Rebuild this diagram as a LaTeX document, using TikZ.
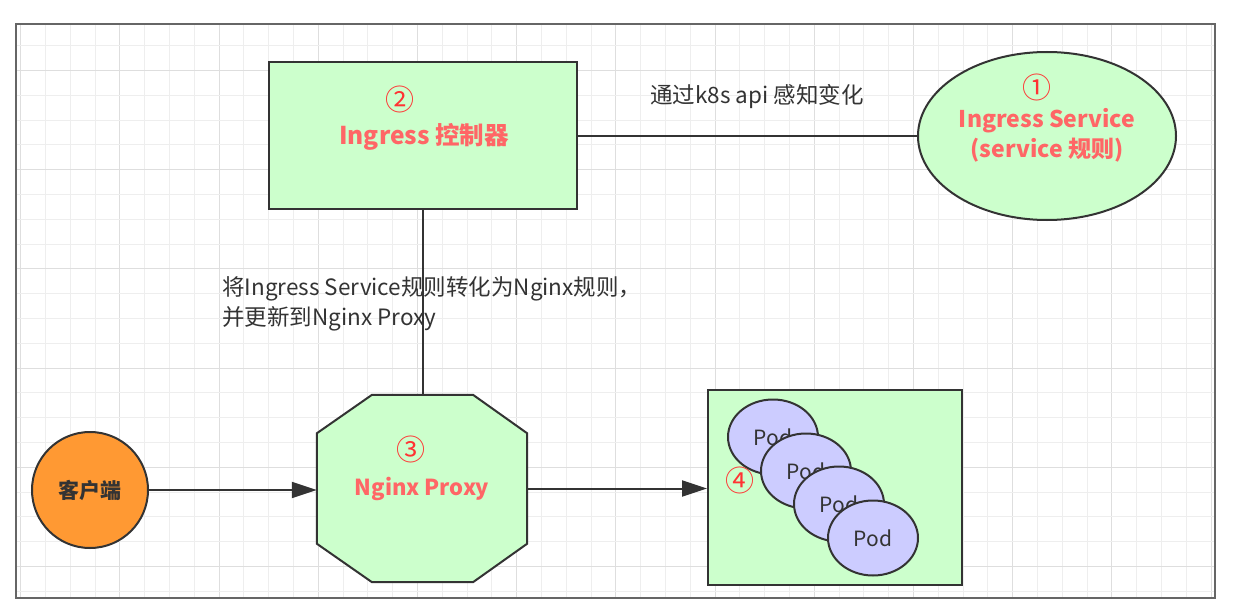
\documentclass[tikz,border=0pt]{standalone}
\usepackage{fontspec}
\setmainfont{Noto Sans CJK SC}
\usetikzlibrary{arrows.meta,shapes.geometric}
\definecolor{gminor}{HTML}{EEEEEE}
\definecolor{gmajor}{HTML}{DEDEDE}
\definecolor{lgreen}{HTML}{CCFFCC}
\definecolor{lblue}{HTML}{CCCCFF}
\definecolor{orng}{HTML}{FF9933}
\definecolor{edge}{HTML}{333333}
\definecolor{redtxt}{HTML}{FF6666}
\definecolor{rednum}{HTML}{FF3333}
\definecolor{frame}{HTML}{666666}
\tikzset{
  box/.style={draw=edge,line width=2pt,fill=lgreen,inner sep=0pt},
  title/.style={text=redtxt,font=\fontsize{#1}{24}\selectfont\bfseries,inner sep=0pt},
  num/.style={text=rednum,font=\fontsize{29}{30}\selectfont,inner sep=0pt},
  lbl/.style={text=edge,font=\fontsize{22.5}{30}\selectfont,inner sep=0pt},
  conn/.style={draw=edge,line width=2pt},
  arr/.style={conn,-{Triangle[length=25pt,width=16pt]}},
  pod/.style={ellipse,draw=edge,line width=2pt,fill=lblue,minimum width=90pt,minimum height=75pt,inner sep=0pt,text=edge,font=\fontsize{21}{22}\selectfont},
}
\begin{document}
\begin{tikzpicture}[x=1pt,y=-1pt]
\useasboundingbox (0,0) rectangle (1243,607);
\fill[white] (0,0) rectangle (1243,607);
% grid
\begin{scope}
\clip (16,24) rectangle (1215,598);
\foreach \k in {0,...,48} {
  \pgfmathsetmacro{\xx}{20.7+24.8*\k}
  \pgfmathtruncatemacro{\mm}{mod(\k,4)}
  \ifnum\mm=0 \draw[gmajor,line width=1pt] (\xx,24) -- (\xx,598);
  \else \draw[gminor,line width=1pt] (\xx,24) -- (\xx,598); \fi
}
\foreach \k in {0,...,22} {
  \pgfmathsetmacro{\yy}{45.7+24.8*\k}
  \pgfmathtruncatemacro{\mm}{mod(\k,4)}
  \ifnum\mm=1 \draw[gmajor,line width=1pt] (16,\yy) -- (1215,\yy);
  \else \draw[gminor,line width=1pt] (16,\yy) -- (1215,\yy); \fi
}
\end{scope}
\draw[frame,line width=1.5pt] (16,24) rectangle (1215,598);

% controller
\node[box,minimum width=308pt,minimum height=147pt] (ctrl) at (423,135.5) {};
\node[num] (n2) at (400,99) {②};
\node[title=24.5] (ctrlt) at (424,137) {Ingress 控制器};

% ingress service
\node[ellipse,box,minimum width=258pt,minimum height=168pt] (svc) at (1047,136) {};
\node[num] (n1) at (1037,87) {①};
\node[title=23] (svct1) at (1047,121) {Ingress Service};
\node[title=23] (svct2) at (1047,150) {(service 规则)};

% nginx proxy (octagon 210 x 187)
\node[rectangle,minimum width=210pt,minimum height=187pt,inner sep=0pt] (ngx) at (422,488.5) {};
\filldraw[draw=edge,fill=lgreen,line width=2pt,line join=miter]
  ([xshift=-50pt]ngx.north) -- ([xshift=51pt]ngx.north)
  -- ([yshift=-38.5pt]ngx.north east) -- ([yshift=38.5pt]ngx.south east)
  -- ([xshift=51pt]ngx.south) -- ([xshift=-50pt]ngx.south)
  -- ([yshift=38.5pt]ngx.south west) -- ([yshift=-38.5pt]ngx.north west) -- cycle;
\node[num] (n3) at (411,449) {③};
\node[title=22] (ngxt) at (422,489) {Nginx Proxy};

% client
\node[circle,draw=edge,line width=2pt,fill=orng,minimum size=116pt,inner sep=0pt,font=\fontsize{21}{22}\selectfont\bfseries,text=edge] (cli) at (90,490) {客户端};

% pods box
\node[box,minimum width=254pt,minimum height=195pt] (pods) at (835,487.5) {};
\node[pod] (p1) at (773,437) {Pod};
\node[pod] (p2) at (806,471) {Pod};
\node[pod] (p3) at (839,504) {Pod};
\node[pod] (p4) at (873,538) {Pod};
\node[num] (n4) at (740,480) {④};

% connectors
\draw[conn] (ctrl.east |- svc.west) -- (svc.west);
\node[lbl] (l1) at (757,97) {通过k8s api 感知变化};
\draw[conn] (ngx.north -| ctrl.south) -- (ctrl.south);
\node[lbl,align=left,anchor=west] (l2) at (222,304) {将Ingress Service规则转化为Nginx规则，\\并更新到Nginx Proxy};
\draw[arr] (cli.east) -- (cli.east -| ngx.west);
\draw[arr] (ngx.east) -- (ngx.east -| pods.west);
\end{tikzpicture}
\end{document}
